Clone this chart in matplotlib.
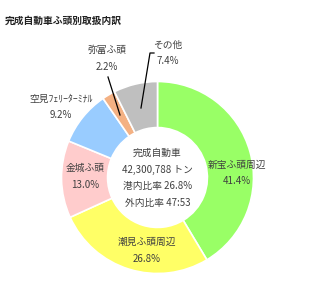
import matplotlib
matplotlib.use("Agg")
import matplotlib.pyplot as plt

plt.rcParams['font.family'] = ['Noto Sans CJK JP', 'DejaVu Sans']

# data
names = ['新宝ふ頭周辺', '潮見ふ頭周辺', '金城ふ頭', '空見ﾌｪﾘｰﾀｰﾐﾅﾙ', '弥富ふ頭', 'その他']
shares = [41.4, 26.8, 13.0, 9.2, 2.2, 7.4]
colors = ['#99ff66', '#ffff66', '#ffcccc', '#99ccff', '#f4b183', '#bfbfbf']
center_lines = ['完成自動車', '42,300,788 トン', '港内比率 26.8%', '外内比率 47:53']

W, H = 311, 292
cx, cy, R = 157.5, 177.5, 96   # pie centre / radius in pixels

fig = plt.figure(figsize=(W / 100, H / 100), dpi=100)
ax = fig.add_axes([0, 0, 1, 1])

ax.pie(shares, colors=colors, startangle=90, counterclock=False, radius=1,
       wedgeprops=dict(width=0.48, edgecolor='white', linewidth=1.2))

# pie() resets the limits, so set them afterwards (1 unit = R pixels)
ax.set_aspect('auto')
ax.set_xlim(-cx / R, (W - cx) / R)
ax.set_ylim((cy - H) / R, cy / R)
ax.axis('off')

txt = '#404040'
fs = 7


def px(x, y):
    return (x - cx) / R, (cy - y) / R


# label positions (pixels, centre of the two-line label)
label_pos = [(237, 173), (147, 250), (85, 176), (61, 107), (107, 58), (168, 53)]
for name, val, (x, y) in zip(names, shares, label_pos):
    ax.text(*px(x, y - 8.5), name, ha='center', va='center',
            fontsize=fs, color=txt)
    ax.text(*px(x, y + 8.5), f'{val:.1f}%', ha='center', va='center',
            fontsize=fs, color=txt)

# leader lines
xs, ys = zip(px(108, 77), px(120, 115))
ax.plot(xs, ys, color='black', lw=0.9)
xs, ys = zip(px(154, 53), px(150, 53), px(141, 108))
ax.plot(xs, ys, color='black', lw=0.9)

# centre text
for i, line in enumerate(center_lines):
    ax.text(*px(cx, 153 + i * 16.7), line, ha='center', va='center',
            fontsize=fs, color=txt)

fig.text(5 / W, 1 - 21 / H, '完成自動車ふ頭別取扱内訳', ha='left', va='center',
         fontsize=7, fontweight='bold', color='#222222')

fig.savefig('out.png', dpi=100)
